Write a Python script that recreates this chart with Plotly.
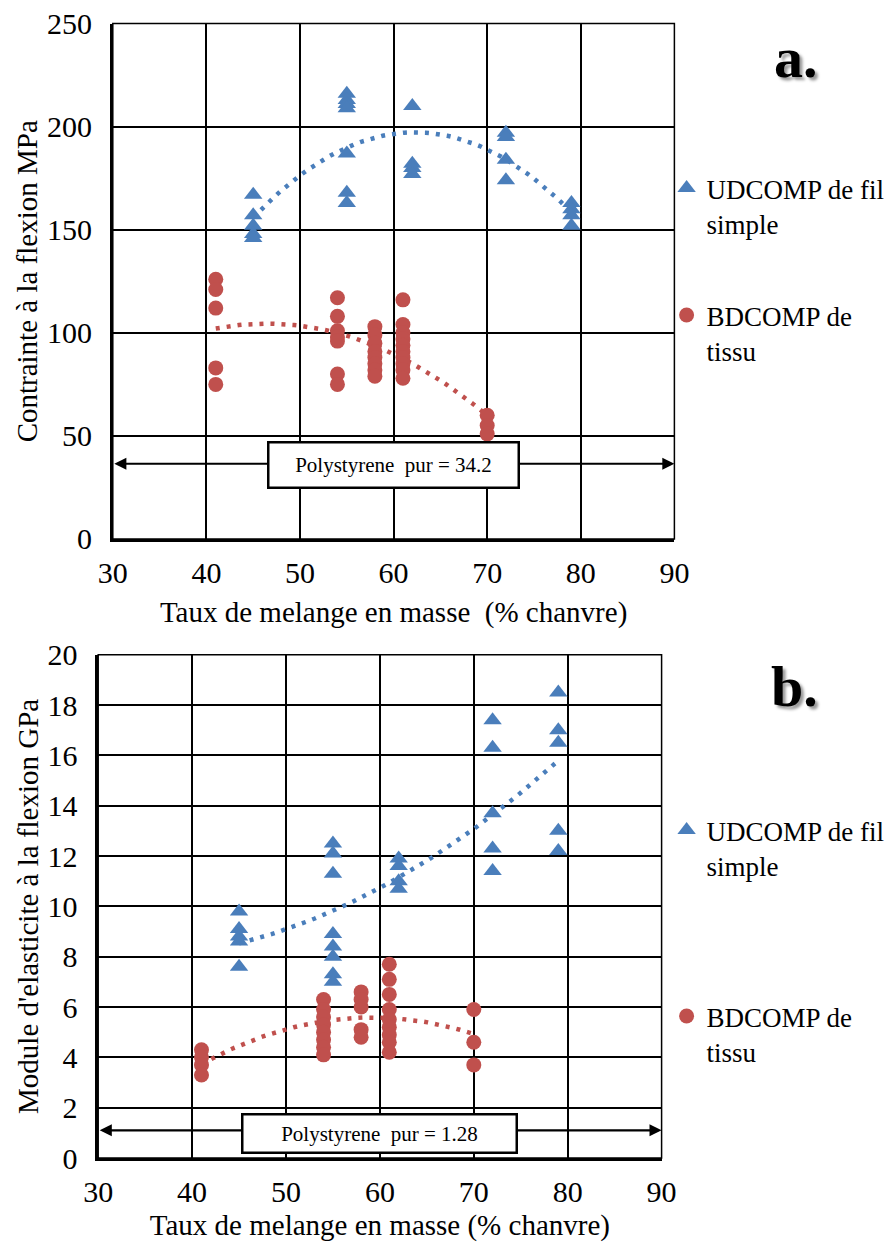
import numpy as np
import plotly.graph_objects as go

# ---------------------------------------
# data
# ---------------------------------------

# a. contrainte a la flexion (MPa)
ud_x_a = [45]*5 + [55]*7 + [62]*4 + [72]*4 + [79]*4
ud_y_a = [167, 157, 152, 148, 146,
          216, 213, 211, 209, 187, 168, 163,
          210, 182, 180, 177,
          197, 195, 184, 174,
          163, 160, 157, 152]

bd_x_a = [41]*5 + [54]*7 + [58]*8 + [61]*10 + [70]*3
bd_y_a = [126, 121, 112, 83, 75,
          117, 108, 101, 98, 96, 80, 75,
          103, 99, 95, 91, 88, 85, 82, 79,
          116, 104, 100, 97, 94, 91, 88, 85, 82, 78,
          60, 55, 51]

# b. module d'elasticite (GPa)
ud_x_b = [45]*5 + [55]*8 + [62]*4 + [72]*5 + [79]*5
ud_y_b = [9.8, 9.1, 8.8, 8.6, 7.6,
          12.5, 12.1, 11.3, 8.9, 8.4, 8.0, 7.3, 7.0,
          11.9, 11.6, 11.0, 10.7,
          17.4, 16.3, 13.7, 12.3, 11.4,
          18.5, 17.0, 16.5, 13.0, 12.2]

bd_x_b = [41]*4 + [54]*8 + [58]*5 + [61]*9 + [70]*3
bd_y_b = [4.3, 4.0, 3.7, 3.3,
          6.3, 5.9, 5.6, 5.3, 5.0, 4.7, 4.4, 4.1,
          6.6, 6.3, 6.0, 5.1, 4.8,
          7.7, 7.1, 6.5, 5.9, 5.5, 5.2, 4.9, 4.6, 4.2,
          5.9, 4.6, 3.7]

ps_label_a = "Polystyrene\u00a0 pur = 34.2"
ps_label_b = "Polystyrene\u00a0 pur = 1.28"
ps_line_a = 36.5
ps_line_b = 1.1

x_ticks = [30, 40, 50, 60, 70, 80, 90]

BLUE = "#4A7EBB"
RED = "#C0504D"
FONT = "Times New Roman, Liberation Serif, DejaVu Serif, serif"

# page has an 8px body margin, so the figure is sized to fit inside it
W, H = 887, 1239


def trend(xs, ys):
    # excel style 2nd order polynomial trendline
    c = np.polyfit(xs, ys, 2)
    xx = np.linspace(min(xs), max(xs), 60)
    return xx, np.polyval(c, xx)


fig = go.Figure()

# ---------------------------------------
# markers + trendlines
# ---------------------------------------

series = [
    (ud_x_a, ud_y_a, "x", "y", BLUE, "triangle-up", 16, "UDCOMP de fil<br>simple", "legend"),
    (bd_x_a, bd_y_a, "x", "y", RED, "circle", 15, "BDCOMP de<br>tissu", "legend2"),
    (ud_x_b, ud_y_b, "x2", "y2", BLUE, "triangle-up", 16, "UDCOMP de fil<br>simple", "legend3"),
    (bd_x_b, bd_y_b, "x2", "y2", RED, "circle", 15, "BDCOMP de<br>tissu", "legend4"),
]

for xs, ys, xa, ya, col, sym, sz, name, leg in series:
    tx, ty = trend(xs, ys)
    fig.add_trace(go.Scatter(
        x=tx, y=ty, xaxis=xa, yaxis=ya, mode="lines",
        line=dict(color=col, width=4.5, dash="4px,7px"),
        showlegend=False, hoverinfo="skip"
    ))
    fig.add_trace(go.Scatter(
        x=xs, y=ys, xaxis=xa, yaxis=ya, mode="markers", name=name,
        marker=dict(symbol=sym, size=sz, color=col),
        legend=leg
    ))

# ---------------------------------------
# axes
# ---------------------------------------

tick_font = dict(family=FONT, size=30, color="black")
title_font = dict(family=FONT, size=29, color="black")

common_x = dict(
    range=[30, 90], tickvals=x_ticks, showgrid=True, gridcolor="black",
    gridwidth=1.5, showline=True, linecolor="black", linewidth=2.5,
    zeroline=False, ticks="", tickfont=tick_font, ticklabelstandoff=5,
    title_font=title_font, ticklabeloverflow="allow"
)
common_y = dict(
    showgrid=True, gridcolor="black", gridwidth=1.5, showline=True,
    linecolor="black", linewidth=2.5, zeroline=False, ticks="",
    tickfont=tick_font, ticklabelstandoff=12, title_font=title_font,
    title_standoff=1, ticklabeloverflow="allow"
)

fig.update_layout(
    xaxis=dict(common_x, domain=[0.11815, 0.75129], anchor="y",
               title_text="Taux de melange en masse\u00a0 (% chanvre)",
               title_standoff=14),
    yaxis=dict(common_y, domain=[0.57143, 0.98741], anchor="x",
               range=[0, 250], tickvals=[0, 50, 100, 150, 200, 250],
               title_text="Contrainte à la flexion MPa"),
    xaxis2=dict(common_x, domain=[0.10169, 0.73686], anchor="y2",
                title_text="Taux de melange en masse (% chanvre)",
                title_standoff=8),
    yaxis2=dict(common_y, domain=[0.07183, 0.47805], anchor="x2",
                range=[0, 20], dtick=2,
                title_text="Module d'elasticite à la flexion GPa"),
)

# plot frame (top / right edges are thin like the grid)
for xr, yr in [("x", "y"), ("x2", "y2")]:
    fig.add_shape(type="rect", xref=xr + " domain", yref=yr + " domain",
                  x0=0, x1=1, y0=0, y1=1, line=dict(color="black", width=1.5),
                  layer="below")

# ---------------------------------------
# legends
# ---------------------------------------

leg_style = dict(font=dict(family=FONT, size=27, color="black"),
                 bgcolor="rgba(0,0,0,0)", valign="top",
                 xanchor="left", yanchor="top", x=0.7425)
fig.update_layout(
    legend=dict(leg_style, y=1 - 156/H),
    legend2=dict(leg_style, y=1 - 283/H),
    legend3=dict(leg_style, y=1 - 798/H),
    legend4=dict(leg_style, y=1 - 984/H),
)

# ---------------------------------------
# polystyrene reference arrows + boxes
# ---------------------------------------

for xr, yr, yline, label, ybox, wbox, hbox in [
    ("x", "y", ps_line_a, ps_label_a, 35.7, 246, 41),
    ("x2", "y2", ps_line_b, ps_label_b, 0.99, 270, 34),
]:
    fig.add_annotation(
        x=90, y=yline, ax=30, ay=yline, xref=xr, yref=yr, axref=xr, ayref=yr,
        text="", showarrow=True, arrowhead=2, arrowside="end+start",
        arrowsize=1.1, arrowwidth=2.2, arrowcolor="black"
    )
    fig.add_annotation(
        x=60, y=ybox, xref=xr, yref=yr, text=label, showarrow=False,
        font=dict(family=FONT, size=21, color="black"),
        bgcolor="white", bordercolor="black", borderwidth=2.5, borderpad=1,
        width=wbox, height=hbox
    )

# panel letters
for lbl, yp in [("a.", 1 - 15/H), ("b.", 1 - 679/H)]:
    fig.add_annotation(
        x=0.915, y=yp, xref="paper", yref="paper", text="<b>" + lbl + "</b>",
        showarrow=False,
        font=dict(family=FONT, size=58, color="black",
                  shadow="3px 3px 3px #999999")
    )

fig.update_layout(
    width=W, height=H,
    margin=dict(l=0, r=0, t=0, b=0, autoexpand=False),
    paper_bgcolor="white", plot_bgcolor="white"
)

fig.write_html("out.html")
